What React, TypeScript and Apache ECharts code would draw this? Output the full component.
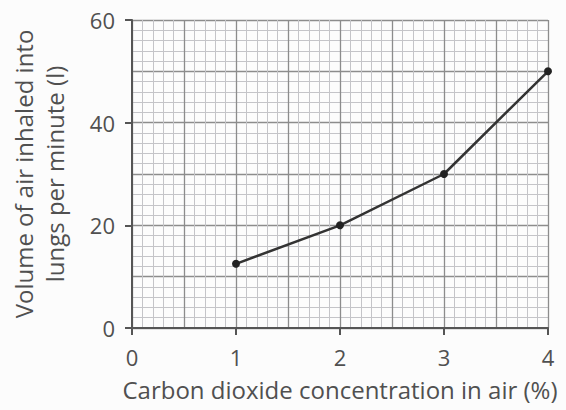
import React, { useEffect, useRef } from "react";
import * as echarts from "echarts";

const co2Concentration = [1, 2, 3, 4];
const airVolume = [12.5, 20, 30, 50];
const xTickValues = [0, 1, 2, 3, 4];
const yTickValues = [0, 20, 40, 60];

const FONT = "Open Sans";
const TEXT = "#505050";

export default function App() {
  const ref = useRef<HTMLDivElement>(null);
  useEffect(() => {
    if (!ref.current) return;
    const chart = echarts.init(ref.current, null, { renderer: "svg" });
    const data = co2Concentration.map((x, i) => [x, airVolume[i]]);
    chart.setOption({
      animation: false,
      backgroundColor: "#fcfcfc",
      textStyle: { fontFamily: FONT },
      grid: { left: 130, right: 18, top: 20, bottom: 82 },
      xAxis: [
        {
          type: "value",
          min: 0,
          max: 4,
          interval: 0.5,
          position: "bottom",
          axisLine: { show: false },
          axisTick: { show: false },
          axisLabel: { show: false },
          splitLine: { show: true, lineStyle: { color: "#8c8c8c", width: 1.3 } },
          minorTick: { show: false, splitNumber: 5 },
          minorSplitLine: { show: true, lineStyle: { color: "#c4c4c8", width: 1 } },
        },
        {
          type: "value",
          min: 0,
          max: 4,
          interval: 1,
          position: "bottom",
          name: "Carbon dioxide concentration in air (%)",
          nameLocation: "middle",
          nameGap: 48,
          nameTextStyle: { fontFamily: FONT, fontSize: 24, color: TEXT, lineHeight: 26 },
          axisLine: { show: true, onZero: false, lineStyle: { color: "#555", width: 2 } },
          axisTick: { show: true, length: 7, lineStyle: { color: "#555", width: 2 } },
          axisLabel: {
            fontFamily: FONT,
            fontSize: 22,
            lineHeight: 24,
            color: TEXT,
            margin: 17,
            formatter: (v: number) => (xTickValues.includes(v) ? String(v) : ""),
          },
          splitLine: { show: false },
        },
      ],
      yAxis: [
        {
          type: "value",
          min: 0,
          max: 60,
          interval: 10,
          position: "left",
          axisLine: { show: false },
          axisTick: { show: false },
          axisLabel: { show: false },
          splitLine: { show: true, lineStyle: { color: "#8c8c8c", width: 1.3 } },
          minorTick: { show: false, splitNumber: 5 },
          minorSplitLine: { show: true, lineStyle: { color: "#c4c4c8", width: 1 } },
        },
        {
          type: "value",
          min: 0,
          max: 60,
          interval: 20,
          position: "left",
          name: "Volume of air inhaled into\nlungs per minute (l)",
          nameLocation: "middle",
          nameGap: 62,
          nameTextStyle: { fontFamily: FONT, fontSize: 24, color: TEXT, lineHeight: 31, align: "center" },
          axisLine: { show: true, onZero: false, lineStyle: { color: "#555", width: 2 } },
          axisTick: { show: true, length: 7, lineStyle: { color: "#555", width: 2 } },
          axisLabel: {
            fontFamily: FONT,
            fontSize: 22,
            color: TEXT,
            margin: 17,
            formatter: (v: number) => (yTickValues.includes(v) ? String(v) : ""),
          },
          splitLine: { show: false },
        },
      ],
      series: [
        {
          type: "line",
          xAxisIndex: 1,
          yAxisIndex: 1,
          data,
          symbol: "circle",
          symbolSize: 8,
          lineStyle: { color: "#333", width: 2.5 },
          itemStyle: { color: "#222" },
        },
      ],
    });
    return () => chart.dispose();
  }, []);
  return <div ref={ref} style={{ width: 566, height: 410, position: "absolute", left: 0, top: 0 }} />;
}
